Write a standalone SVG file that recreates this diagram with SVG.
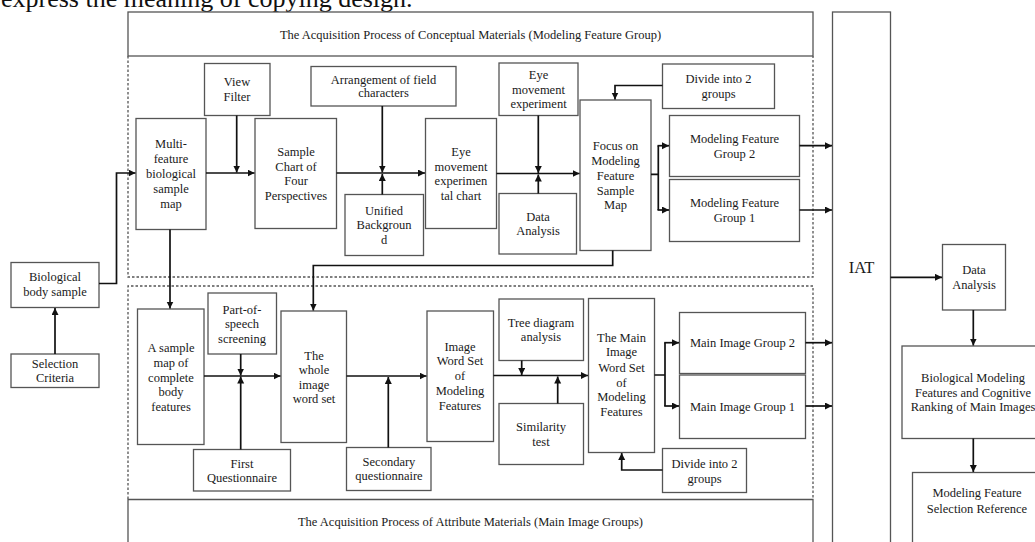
<svg xmlns="http://www.w3.org/2000/svg" width="1035" height="542" viewBox="0 0 1035 542">
<style>
.box{fill:#fff;stroke:#555;stroke-width:1.3}
.frame{fill:none;stroke:#555;stroke-width:1.3}
.dash{fill:none;stroke:#555;stroke-width:1.3;stroke-dasharray:2.5 2}
.t{font-family:"Liberation Serif","Times New Roman",serif;font-size:12.5px;fill:#1a1a1a;text-anchor:middle;dominant-baseline:central}
.c{fill:none;stroke:#111;stroke-width:1.7}
.ca{fill:none;stroke:#111;stroke-width:1.7;marker-end:url(#ah)}
</style>
<defs>
<marker id="ah" markerUnits="userSpaceOnUse" markerWidth="8" markerHeight="8" refX="7" refY="3.5" orient="auto">
<path d="M0,0 L7,3.5 L0,7 z" fill="#111"/>
</marker>
</defs>
<rect width="1035" height="542" fill="#fff"/>
<text x="1" y="6.5" font-family="Liberation Serif, Times New Roman, serif" font-size="26" fill="#111">express the meaning of copying design.</text>

<g id="frames">
<rect class="frame" x="128" y="12" width="685" height="44"/>
<text class="t" x="470.5" y="35">The Acquisition Process of Conceptual Materials (Modeling Feature Group)</text>
<path class="dash" d="M128,56 V277 H813 V56"/>
<path class="dash" d="M128,499 V286 H813 V499"/>
<path class="frame" d="M128,545 V499.5 H813 V545"/>
<text class="t" x="470.5" y="522">The Acquisition Process of Attribute Materials (Main Image Groups)</text>
</g>

<g id="n-bio-sample"><rect class="box" x="11" y="262.5" width="88" height="45"/><text class="t" x="55" y="277">Biological</text><text class="t" x="55" y="292">body sample</text></g>
<g id="n-selection"><rect class="box" x="11" y="354" width="88" height="33.5"/><text class="t" x="55" y="363.5">Selection</text><text class="t" x="55" y="377.5">Criteria</text></g>
<g id="n-view-filter"><rect class="box" x="204.5" y="63.5" width="65.5" height="52"/><text class="t" x="237" y="82">View</text><text class="t" x="237" y="97">Filter</text></g>
<g id="n-multi"><rect class="box" x="136" y="118.5" width="70" height="111"/><text class="t" x="171" y="144">Multi-</text><text class="t" x="171" y="159">feature</text><text class="t" x="171" y="174">biological</text><text class="t" x="171" y="189">sample</text><text class="t" x="171" y="204">map</text></g>
<g id="n-sample-chart"><rect class="box" x="255" y="118.5" width="81.5" height="110"/><text class="t" x="296" y="152">Sample</text><text class="t" x="296" y="166.5">Chart of</text><text class="t" x="296" y="181">Four</text><text class="t" x="296" y="195.5">Perspectives</text></g>
<g id="n-arrangement"><rect class="box" x="311" y="66.5" width="145" height="39.5"/><text class="t" x="383.5" y="79.5">Arrangement of field</text><text class="t" x="383.5" y="93">characters</text></g>
<g id="n-unified"><rect class="box" x="345" y="194.5" width="78.5" height="61"/><text class="t" x="384" y="210.5">Unified</text><text class="t" x="384" y="225">Backgroun</text><text class="t" x="384" y="239.5">d</text></g>
<g id="n-eye-chart"><rect class="box" x="425.5" y="118.5" width="71" height="110"/><text class="t" x="461" y="152">Eye</text><text class="t" x="461" y="166.5">movement</text><text class="t" x="461" y="181">experimen</text><text class="t" x="461" y="195.5">tal chart</text></g>
<g id="n-eye-exp"><rect class="box" x="499" y="63" width="79" height="52.5"/><text class="t" x="538.5" y="75">Eye</text><text class="t" x="538.5" y="89.5">movement</text><text class="t" x="538.5" y="104">experiment</text></g>
<g id="n-data1"><rect class="box" x="499" y="193.5" width="77.5" height="60.5"/><text class="t" x="538" y="217">Data</text><text class="t" x="538" y="231">Analysis</text></g>
<g id="n-focus"><rect class="box" x="580" y="100" width="71" height="150.5"/><text class="t" x="615.5" y="146">Focus on</text><text class="t" x="615.5" y="160.5">Modeling</text><text class="t" x="615.5" y="175.5">Feature</text><text class="t" x="615.5" y="190.5">Sample</text><text class="t" x="615.5" y="204.5">Map</text></g>
<g id="n-divide1"><rect class="box" x="662.5" y="64" width="112" height="44.5"/><text class="t" x="718.5" y="79">Divide into 2</text><text class="t" x="718.5" y="93.5">groups</text></g>
<g id="n-mfg2"><rect class="box" x="669.5" y="115.5" width="130" height="61"/><text class="t" x="734.5" y="138.5">Modeling Feature</text><text class="t" x="734.5" y="153.5">Group 2</text></g>
<g id="n-mfg1"><rect class="box" x="669.5" y="179.5" width="130" height="62"/><text class="t" x="734.5" y="203">Modeling Feature</text><text class="t" x="734.5" y="217.5">Group 1</text></g>
<g id="n-iat"><rect class="box" x="832.5" y="12" width="58" height="540"/><text x="861.5" y="273" font-family="Liberation Serif, Times New Roman, serif" font-size="16.5" fill="#1a1a1a" text-anchor="middle">IAT</text></g>

<g id="n-sample-map"><rect class="box" x="137.5" y="309" width="66.5" height="135.5"/><text class="t" x="171" y="348">A sample</text><text class="t" x="171" y="363">map of</text><text class="t" x="171" y="377.5">complete</text><text class="t" x="171" y="392">body</text><text class="t" x="171" y="406.5">features</text></g>
<g id="n-pos"><rect class="box" x="208" y="293" width="68.5" height="61"/><text class="t" x="242" y="309.5">Part-of-</text><text class="t" x="242" y="323.5">speech</text><text class="t" x="242" y="339">screening</text></g>
<g id="n-whole"><rect class="box" x="281" y="311" width="65.5" height="131.5"/><text class="t" x="314" y="355.5">The</text><text class="t" x="314" y="370">whole</text><text class="t" x="314" y="384.5">image</text><text class="t" x="314" y="399">word set</text></g>
<g id="n-firstq"><rect class="box" x="193.5" y="449.5" width="97" height="41.5"/><text class="t" x="242" y="463.5">First</text><text class="t" x="242" y="477.5">Questionnaire</text></g>
<g id="n-secondq"><rect class="box" x="346.5" y="447.5" width="84.5" height="43"/><text class="t" x="389" y="462">Secondary</text><text class="t" x="389" y="476">questionnaire</text></g>
<g id="n-iws"><rect class="box" x="427" y="311" width="66.5" height="130.5"/><text class="t" x="460" y="346.5">Image</text><text class="t" x="460" y="361">Word Set</text><text class="t" x="460" y="376">of</text><text class="t" x="460" y="391">Modeling</text><text class="t" x="460" y="405.5">Features</text></g>
<g id="n-tree"><rect class="box" x="499" y="299" width="84.5" height="61.5"/><text class="t" x="541" y="322.5">Tree diagram</text><text class="t" x="541" y="337">analysis</text></g>
<g id="n-similarity"><rect class="box" x="499" y="403.5" width="84.5" height="61"/><text class="t" x="541" y="427">Similarity</text><text class="t" x="541" y="442">test</text></g>
<g id="n-miws"><rect class="box" x="588.5" y="298.5" width="66" height="154"/><text class="t" x="621.5" y="338">The Main</text><text class="t" x="621.5" y="352">Image</text><text class="t" x="621.5" y="367.5">Word Set</text><text class="t" x="621.5" y="382.5">of</text><text class="t" x="621.5" y="397">Modeling</text><text class="t" x="621.5" y="412">Features</text></g>
<g id="n-mig2"><rect class="box" x="679.5" y="312.5" width="126" height="61"/><text class="t" x="742.5" y="343">Main Image Group 2</text></g>
<g id="n-mig1"><rect class="box" x="679.5" y="375" width="126" height="63.5"/><text class="t" x="742.5" y="406.5">Main Image Group 1</text></g>
<g id="n-divide2"><rect class="box" x="662.5" y="448.5" width="84" height="44"/><text class="t" x="704.5" y="463.5">Divide into 2</text><text class="t" x="704.5" y="478.5">groups</text></g>

<g id="n-data2"><rect class="box" x="942.5" y="244.5" width="63" height="65.5"/><text class="t" x="974" y="270">Data</text><text class="t" x="974" y="284.5">Analysis</text></g>
<g id="n-ranking"><rect class="box" x="902" y="346" width="142" height="92.5"/><text class="t" x="973" y="378">Biological Modeling</text><text class="t" x="973" y="392.5">Features and Cognitive</text><text class="t" x="973" y="407">Ranking of Main Images</text></g>
<g id="n-reference"><rect class="box" x="912.5" y="472.5" width="129" height="80"/><text class="t" x="977" y="493">Modeling Feature</text><text class="t" x="977" y="508.5">Selection Reference</text></g>

<g id="connectors">
<path class="ca" d="M99,283.5 H116.5 V173 H135.5"/>
<path class="ca" d="M55,354 V308"/>
<path class="ca" d="M206,173 H254.5"/>
<path class="ca" d="M236.7,115.5 V172.5"/>
<path class="ca" d="M336.5,173 H425"/>
<path class="ca" d="M382.3,106 V172.5"/>
<path class="ca" d="M382.3,194.5 V174"/>
<path class="ca" d="M496.5,173.5 H579.5"/>
<path class="ca" d="M538.3,115.5 V173"/>
<path class="ca" d="M538.3,193.5 V174.5"/>
<path class="ca" d="M662.5,85.5 H615 V99.5"/>
<path class="c" d="M651,174.3 H658.3 M658.3,145.7 V210"/>
<path class="ca" d="M657.5,145.7 H669"/>
<path class="ca" d="M657.5,210 H669"/>
<path class="ca" d="M799.5,145.7 H832"/>
<path class="ca" d="M799.5,210 H832"/>
<path class="ca" d="M612.7,250.5 V265.5 H313.3 V310.5"/>
<path class="ca" d="M170,229.5 V308.5"/>
<path class="ca" d="M204,376 H280.5"/>
<path class="ca" d="M240.7,354 V375.5"/>
<path class="ca" d="M240.7,449.5 V376.5"/>
<path class="ca" d="M346.5,376 H426.5"/>
<path class="ca" d="M388.3,447.5 V377"/>
<path class="ca" d="M493.5,375.5 H588"/>
<path class="ca" d="M521.7,360.5 V375"/>
<path class="ca" d="M557.7,403.5 V376.5"/>
<path class="c" d="M654.5,375 H665 M665,342.7 V406"/>
<path class="ca" d="M664.2,342.7 H679"/>
<path class="ca" d="M664.2,406 H679"/>
<path class="ca" d="M805.5,342.7 H832"/>
<path class="ca" d="M805.5,406 H832"/>
<path class="ca" d="M662.5,470 H621.7 V453"/>
<path class="ca" d="M890.5,277.3 H942"/>
<path class="ca" d="M973.3,310 V345.5"/>
<path class="ca" d="M973.3,438.5 V472"/>
</g>
</svg>
